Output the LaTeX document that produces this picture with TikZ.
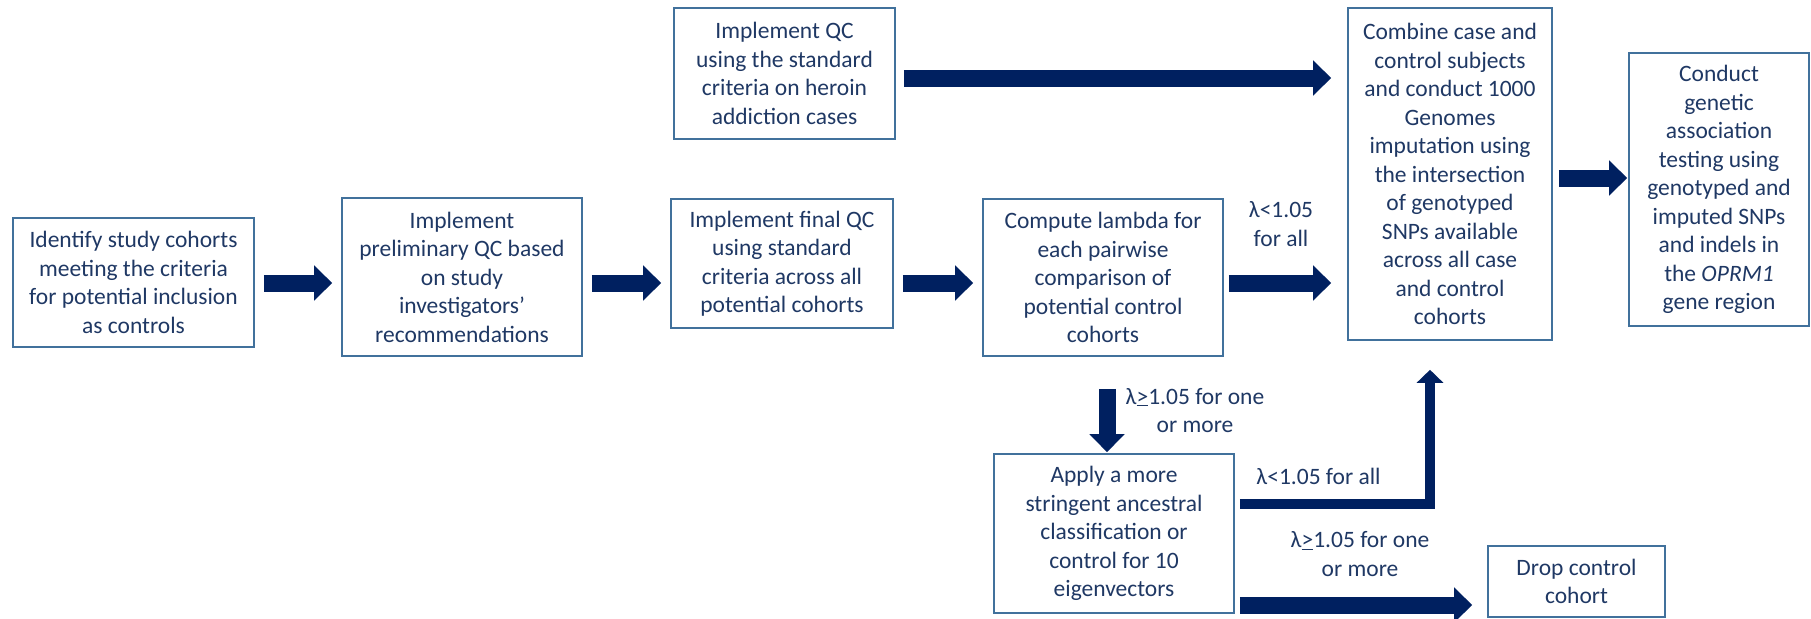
\documentclass[tikz,border=0pt]{standalone}
\usepackage{fontspec}
\setmainfont{Carlito}
\usetikzlibrary{arrows.meta}

\definecolor{boxedge}{HTML}{41719C}
\definecolor{inktext}{HTML}{1F3864}
\definecolor{navy}{HTML}{002060}

\tikzset{
  stepbox/.style 2 args={draw=boxedge, line width=1.6pt, text=inktext,
    align=center, inner sep=0pt, minimum width=#1, minimum height=#2,
    font=\fontsize{23.5}{28.5}\selectfont},
  cond/.style={text=inktext, align=center, font=\fontsize{23.5}{28.5}\selectfont},
  fat/.style={navy, line width=17pt, -{Triangle[length=18pt,width=34pt]},
    shorten <=9pt, shorten >=9pt},
  slim/.style={navy, line width=10pt, -{Triangle[length=13pt,width=26pt]}},
}

\begin{document}
\begin{tikzpicture}[x=1pt, y=-1pt]
    \useasboundingbox (0,0) rectangle (1811,618);

    \node[stepbox={241pt}{129pt}] (identify) at (133.5,282.5)
      {Identify study cohorts\\meeting the criteria\\for potential inclusion\\as controls};
    \node[stepbox={240pt}{158pt}] (prelim) at (462,277)
      {Implement\\preliminary QC based\\on study\\investigators’\\recommendations};
    \node[stepbox={221pt}{131pt}] (caseqc) at (784.5,73.5)
      {Implement QC\\using the standard\\criteria on heroin\\addiction cases};
    \node[stepbox={222pt}{129pt}] (finalqc) at (782,263.5)
      {Implement final QC\\using standard\\criteria across all\\potential cohorts};
    \node[stepbox={240pt}{157pt}] (lambda) at (1103,277.5)
      {Compute lambda for\\each pairwise\\comparison of\\potential control\\cohorts};
    \node[stepbox={204pt}{332pt}] (combine) at (1450,174)
      {Combine case and\\control subjects\\and conduct 1000\\Genomes\\imputation using\\the intersection\\of genotyped\\SNPs available\\across all case\\and control\\cohorts};
    \node[stepbox={180pt}{273pt}] (assoc) at (1719,189.5)
      {Conduct\\genetic\\association\\testing using\\genotyped and\\imputed SNPs\\and indels in\\the \textit{OPRM1}\\gene region};
    \node[stepbox={240pt}{159pt}] (ancestry) at (1114,533.5)
      {Apply a more\\stringent ancestral\\classification or\\control for 10\\eigenvectors};
    \node[stepbox={177pt}{71pt}] (drop) at (1576.5,581.5)
      {Drop control\\cohort};

    % conditions on the lambda checks
    \node[cond] (passA) at (1281,224) {λ<1.05\\for all};
    \node[cond] (failA) at (1195,410.5) {λ\underline{>}1.05 for one\\or more};
    \node[cond] (passB) at (1318.5,476) {λ<1.05 for all};
    \node[cond] (failB) at (1360,554) {λ\underline{>}1.05 for one\\or more};

    \coordinate (toprow) at (0,78);
    \coordinate (midrow) at (0,283);
    \coordinate (outrow) at (0,178);
    \coordinate (droprow) at (0,605);
    \coordinate (downcol) at (1107,0);
    \coordinate (bend) at (1430,504);

    \draw[fat] (identify.east |- midrow) -- (prelim.west |- midrow);
    \draw[fat] (prelim.east |- midrow) -- (finalqc.west |- midrow);
    \draw[fat] (finalqc.east |- midrow) -- (lambda.west |- midrow);
    \draw[fat, shorten <=5pt, shorten >=16pt] (lambda.east |- midrow) -- (combine.west |- midrow);
    \draw[fat, shorten <=8pt, shorten >=16pt] (caseqc.east |- toprow) -- (combine.west |- toprow);
    \draw[fat, shorten <=6pt, shorten >=1pt] (combine.east |- outrow) -- (assoc.west |- outrow);
    \draw[fat, shorten <=32pt, shorten >=1pt] (lambda.south -| downcol) -- (ancestry.north -| downcol);
    \draw[fat, shorten <=5pt, shorten >=15pt] (ancestry.east |- droprow) -- (drop.west |- droprow);
    \draw[slim, shorten <=5pt, shorten >=29pt] (ancestry.east |- bend) -| (combine.south -| bend);
\end{tikzpicture}
\end{document}
